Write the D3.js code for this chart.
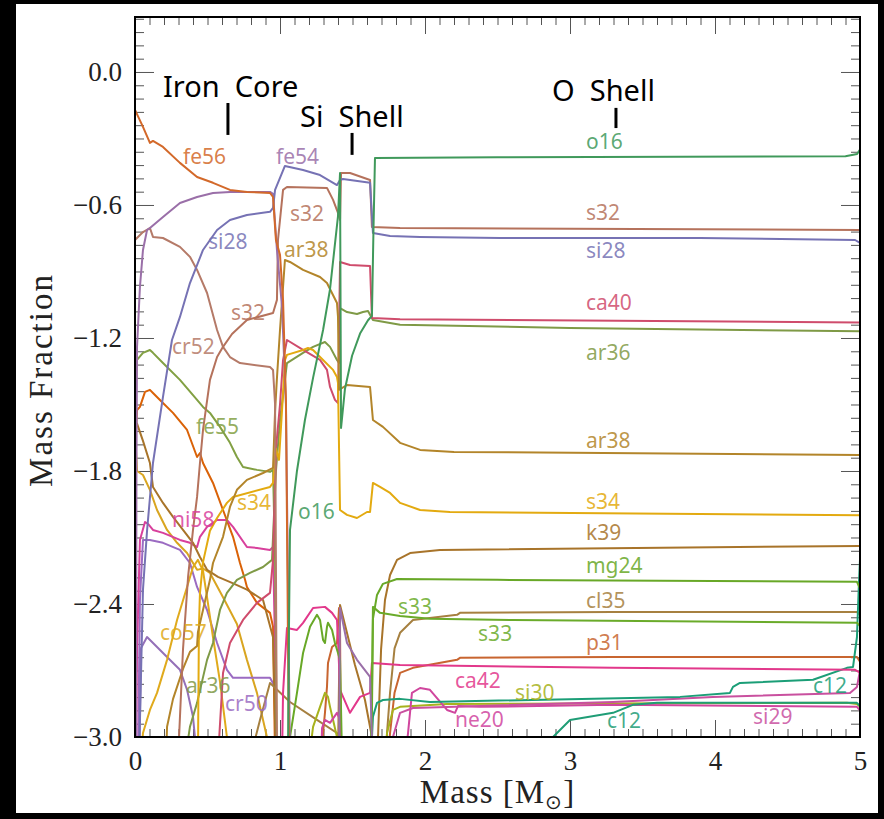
<!DOCTYPE html>
<html>
<head>
<meta charset="utf-8">
<style>
    html, body { margin: 0; padding: 0; background: #000; }
    svg { display: block; }
    .tick line { stroke: #555; stroke-width: 1px; }
    .axis-title { font-family: "Liberation Serif", serif; font-size: 33px; fill: #222; }
    .region { font-family: "Noto Sans", sans-serif; font-size: 29px; fill: #000; }
    .iso-label { font-family: "Noto Sans", sans-serif; font-size: 21px; }
    .iso { fill: none; stroke-width: 2px; stroke-linejoin: round; }
</style>
</head>
<body>
<svg width="884" height="819"></svg>
<script src="https://cdn.jsdelivr.net/npm/d3@7"></script>
<script>
// mass [Msun], log10 mass fraction
var fe56 = [[0,-0.171],[0.055,-0.248],[0.103,-0.32],[0.124,-0.311],[0.193,-0.338],[0.31,-0.41],[0.428,-0.474],[0.538,-0.5],[0.655,-0.532],[0.772,-0.541],[0.931,-0.546],[0.952,-0.564],[0.972,-0.758],[1.0,-0.825],[1.021,-1.028],[1.041,-1.48],[1.062,-3.1]];
var fe54 = [[0.007,-3.1],[0.01,-1.8],[0.014,-1.24],[0.034,-0.97],[0.055,-0.803],[0.083,-0.713],[0.103,-0.704],[0.193,-0.654],[0.31,-0.591],[0.428,-0.564],[0.538,-0.546],[0.655,-0.541],[0.931,-0.541],[0.952,-0.55],[0.979,-0.803],[1.014,-1.06],[1.041,-1.5],[1.069,-3.1],[1.407,-3.1],[1.414,-2.418],[1.462,-2.576],[1.531,-2.652],[1.6,-2.711],[1.621,-2.729],[1.634,-3.0],[1.641,-3.1]];
var cr52 = [[0,-0.758],[0.055,-0.722],[0.103,-0.704],[0.124,-0.744],[0.193,-0.749],[0.31,-0.789],[0.379,-0.834],[0.428,-0.893],[0.497,-0.997],[0.566,-1.164],[0.607,-1.24],[0.655,-1.286],[0.724,-1.313],[0.931,-1.331],[0.952,-1.344],[0.966,-1.5],[0.979,-3.1]];
var si28 = [[0.028,-3.1],[0.055,-2.335],[0.083,-2.07],[0.124,-1.764],[0.193,-1.466],[0.255,-1.209],[0.31,-1.105],[0.379,-0.952],[0.469,-0.803],[0.566,-0.713],[0.655,-0.668],[0.772,-0.645],[0.931,-0.631],[0.952,-0.613],[0.966,-0.532],[1.034,-0.424],[1.159,-0.442],[1.276,-0.465],[1.393,-0.51],[1.414,-0.487],[1.434,-0.483],[1.621,-0.5],[1.641,-0.726],[1.759,-0.74],[1.966,-0.744],[2.517,-0.749],[3.897,-0.749],[4.966,-0.758],[5,-0.771]];
var s32 = [[0.297,-3.1],[0.331,-2.605],[0.366,-2.278],[0.4,-2.066],[0.428,-1.917],[0.448,-1.764],[0.469,-1.615],[0.517,-1.389],[0.566,-1.286],[0.607,-1.24],[0.669,-1.182],[0.772,-1.119],[0.952,-1.087],[0.979,-1.028],[0.986,-0.758],[1.021,-0.532],[1.048,-0.519],[1.324,-0.523],[1.366,-0.577],[1.4,-0.636],[1.414,-0.668],[1.421,-0.456],[1.483,-0.456],[1.621,-0.487],[1.634,-0.699],[1.828,-0.704],[5,-0.713]];
var o16 = [[1.055,-3.1],[1.062,-2.5],[1.069,-2.066],[1.117,-1.8],[1.172,-1.57],[1.228,-1.38],[1.297,-1.164],[1.345,-0.98],[1.4,-0.65],[1.414,-0.456],[1.421,-1.606],[1.448,-1.43],[1.497,-1.28],[1.552,-1.18],[1.607,-1.12],[1.634,-1.1],[1.645,-0.7],[1.655,-0.388],[2.5,-0.385],[4.9,-0.38],[4.98,-0.37],[5,-0.35]];
var ca40 = [[0.572,-3.1],[0.607,-2.711],[0.655,-2.576],[0.745,-2.472],[0.841,-2.395],[0.931,-2.35],[0.952,-2.201],[0.972,-1.7],[1.0,-1.5],[1.021,-1.3],[1.048,-1.209],[1.159,-1.254],[1.276,-1.299],[1.324,-1.344],[1.345,-1.421],[1.379,-1.479],[1.4,-1.493],[1.414,-0.857],[1.483,-0.871],[1.621,-0.875],[1.634,-1.11],[1.828,-1.115],[5,-1.13]];
var ar36 = [[0.345,-3.1],[0.379,-2.954],[0.428,-2.846],[0.497,-2.652],[0.538,-2.576],[0.586,-2.427],[0.634,-2.35],[0.703,-2.291],[0.793,-2.26],[0.883,-2.233],[0.945,-2.201],[0.972,-1.8],[1.0,-1.57],[1.048,-1.313],[1.159,-1.267],[1.228,-1.24],[1.31,-1.218],[1.345,-1.24],[1.393,-1.299],[1.407,-1.313],[1.414,-1.065],[1.462,-1.083],[1.531,-1.092],[1.572,-1.083],[1.607,-1.078],[1.641,-1.119],[1.828,-1.14],[3,-1.155],[5,-1.17]];
var ar38 = [[0.214,-3.1],[0.221,-2.954],[0.262,-2.829],[0.331,-2.693],[0.379,-2.616],[0.428,-2.589],[0.434,-2.527],[0.469,-2.427],[0.517,-2.291],[0.538,-2.215],[0.607,-2.097],[0.655,-1.962],[0.703,-1.885],[0.772,-1.84],[0.883,-1.809],[0.952,-1.786],[0.966,-1.53],[0.979,-1.38],[1.0,-1.164],[1.034,-0.848],[1.069,-0.857],[1.159,-0.893],[1.276,-0.925],[1.324,-0.952],[1.393,-1.042],[1.4,-1.105],[1.407,-1.434],[1.462,-1.412],[1.621,-1.421],[1.641,-1.57],[1.71,-1.601],[1.828,-1.673],[1.966,-1.705],[2.2,-1.714],[5,-1.728]];
var s34 = [[0.434,-3.1],[0.441,-2.5],[0.448,-2.35],[0.469,-2.211],[0.517,-2.07],[0.566,-2.012],[0.634,-1.944],[0.676,-1.917],[0.931,-1.872],[0.952,-1.854],[0.972,-1.7],[0.993,-1.75],[1.007,-1.6],[1.021,-1.45],[1.034,-1.3],[1.048,-1.276],[1.159,-1.254],[1.193,-1.245],[1.228,-1.254],[1.297,-1.299],[1.366,-1.344],[1.393,-1.376],[1.4,-1.403],[1.414,-1.976],[1.462,-1.998],[1.531,-2.012],[1.6,-1.985],[1.621,-1.985],[1.641,-1.854],[1.69,-1.872],[1.759,-1.899],[1.828,-1.944],[1.966,-1.976],[2.172,-1.985],[5,-2.0]];
var co57 = [[0.041,-3.1],[0.055,-2.982],[0.103,-2.878],[0.152,-2.801],[0.221,-2.652],[0.29,-2.472],[0.359,-2.323],[0.4,-2.233],[0.434,-2.201],[0.469,-2.25],[0.497,-2.37],[0.538,-2.55],[0.586,-2.75],[0.634,-3.0],[0.65,-3.1]];
var co56 = [[0,-1.62],[0.014,-1.8],[0.055,-1.818],[0.103,-1.885],[0.152,-1.976],[0.221,-2.066],[0.29,-2.124],[0.359,-2.17],[0.428,-2.246],[0.469,-2.24],[0.517,-2.26],[0.607,-2.37],[0.703,-2.49],[0.772,-2.652],[0.841,-2.801],[0.883,-2.923],[0.91,-3.0],[0.92,-3.1]];
var k39 = [[0,-1.6],[0.014,-1.586],[0.055,-1.664],[0.103,-1.764],[0.124,-1.872],[0.193,-1.944],[0.262,-2.007],[0.331,-2.066],[0.4,-2.124],[0.448,-2.188],[0.497,-2.246],[0.572,-2.278],[0.669,-2.305],[0.772,-2.335],[0.883,-2.382],[0.952,-2.55],[0.972,-3.1],[1.4,-3.1],[1.414,-2.404],[1.448,-2.494],[1.517,-2.675],[1.586,-2.833],[1.634,-3.0],[1.648,-3.1],[1.669,-3.1],[1.676,-3.0],[1.697,-2.605],[1.724,-2.382],[1.759,-2.269],[1.807,-2.201],[1.897,-2.17],[2.103,-2.156],[5,-2.138]];
var mg24 = [[1.048,-3.1],[1.069,-3.0],[1.117,-2.801],[1.159,-2.621],[1.207,-2.503],[1.255,-2.449],[1.276,-2.472],[1.297,-2.562],[1.31,-2.576],[1.324,-2.503],[1.331,-2.485],[1.359,-2.517],[1.379,-2.576],[1.4,-2.621],[1.414,-2.652],[1.428,-3.1],[1.628,-3.1],[1.634,-2.9],[1.641,-2.467],[1.669,-2.359],[1.71,-2.309],[1.807,-2.287],[2.5,-2.291],[4.979,-2.3],[5,-2.33]];
var s33 = [[1.627,-3.1],[1.634,-2.8],[1.641,-2.413],[1.69,-2.44],[1.828,-2.454],[2.034,-2.467],[2.607,-2.472],[4.98,-2.485],[5,-2.5]];
var cl35 = [[0.793,-3.1],[0.862,-2.923],[0.931,-2.756],[1.069,-2.842],[1.255,-2.923],[1.393,-2.982],[1.45,-3.1],[1.73,-3.1],[1.738,-2.982],[1.759,-2.8],[1.79,-2.6],[1.828,-2.53],[1.917,-2.472],[2.221,-2.449],[2.241,-2.44],[3.297,-2.436],[4.979,-2.436],[5,-2.45]];
var p31 = [[1.283,-3.1],[1.297,-2.982],[1.31,-2.891],[1.324,-2.774],[1.331,-2.666],[1.359,-2.594],[1.393,-2.576],[1.407,-2.418],[1.414,-2.5],[1.42,-3.1],[1.745,-3.1],[1.759,-2.982],[1.79,-2.8],[1.828,-2.711],[1.917,-2.688],[2.221,-2.652],[2.241,-2.643],[3.297,-2.639],[4.979,-2.639],[5,-2.66]];
var ca42 = [[1.014,-3.1],[1.021,-2.8],[1.048,-2.508],[1.117,-2.517],[1.159,-2.485],[1.228,-2.418],[1.31,-2.413],[1.359,-2.44],[1.393,-2.472],[1.4,-2.562],[1.414,-2.787],[1.483,-2.891],[1.552,-2.819],[1.621,-2.801],[1.634,-2.666],[1.828,-2.675],[3.297,-2.688],[4.966,-2.697],[5,-2.71]];
var ni58 = [[0.007,-3.1],[0.014,-2.6],[0.034,-2.111],[0.069,-2.03],[0.09,-2.039],[0.124,-2.066],[0.193,-2.079],[0.31,-2.111],[0.379,-2.124],[0.428,-2.143],[0.448,-2.097],[0.497,-2.052],[0.566,-2.021],[0.634,-2.021],[0.676,-2.052],[0.772,-2.143],[0.841,-2.147],[0.931,-2.156],[0.952,-2.143],[0.966,-2.6],[0.972,-3.1]];
var cr50 = [[0.021,-3.1],[0.034,-2.382],[0.055,-2.111],[0.103,-2.111],[0.193,-2.124],[0.31,-2.156],[0.379,-2.215],[0.428,-2.323],[0.497,-2.427],[0.566,-2.576],[0.634,-2.697],[0.676,-2.733],[0.931,-2.733],[0.966,-2.774],[0.979,-3.1]];
var ti48 = [[0.03,-3.1],[0.041,-2.6],[0.083,-2.549],[0.152,-2.594],[0.221,-2.639],[0.31,-2.697],[0.359,-2.787],[0.4,-2.909],[0.428,-3.1]];
var fe55 = [[0,-1.5],[0.014,-1.299],[0.055,-1.267],[0.103,-1.254],[0.124,-1.267],[0.193,-1.313],[0.31,-1.389],[0.428,-1.479],[0.469,-1.511],[0.517,-1.538],[0.586,-1.601],[0.655,-1.673],[0.703,-1.737],[0.745,-1.782],[0.841,-1.795],[0.931,-1.804],[0.952,-1.795],[0.966,-2.2],[0.979,-3.1]];
var ni56 = [[0,-1.7],[0.014,-1.525],[0.034,-1.511],[0.069,-1.443],[0.103,-1.434],[0.124,-1.448],[0.193,-1.493],[0.262,-1.538],[0.359,-1.615],[0.428,-1.737],[0.448,-1.719],[0.469,-1.764],[0.538,-1.854],[0.607,-1.976],[0.676,-2.097],[0.724,-2.215],[0.759,-2.291],[0.772,-2.323],[0.841,-2.395],[0.931,-2.44],[0.952,-2.503],[0.966,-3.1]];
var ne20 = [[1.283,-3.1],[1.29,-2.96],[1.31,-2.923],[1.345,-2.936],[1.393,-2.891],[1.414,-2.923],[1.428,-3.1],[1.862,-3.1],[1.883,-2.982],[1.91,-2.801],[1.966,-2.779],[2.034,-2.787],[2.152,-2.878],[2.207,-2.891],[2.228,-2.86],[2.379,-2.864],[3.297,-2.855],[4.979,-2.864],[5,-2.88]];
var si29 = [[1.772,-3.1],[1.779,-3.0],[1.828,-2.891],[1.917,-2.869],[2.379,-2.86],[3.297,-2.842],[3.986,-2.819],[4.931,-2.801],[4.979,-2.774],[5,-2.7]];
var si30 = [[1.2,-3.1],[1.228,-2.954],[1.276,-2.864],[1.31,-2.801],[1.331,-2.819],[1.345,-2.864],[1.366,-2.923],[1.393,-3.0],[1.4,-3.1],[1.731,-3.1],[1.738,-2.982],[1.779,-2.878],[1.828,-2.864],[2.152,-2.851],[4.91,-2.846],[4.979,-2.851],[5,-2.864]];
var c12 = [[1.627,-3.1],[1.641,-2.909],[1.669,-2.846],[1.71,-2.833],[1.828,-2.828],[2.034,-2.842],[3.759,-2.819],[4.103,-2.801],[4.124,-2.774],[4.172,-2.756],[4.676,-2.742],[4.91,-2.688],[4.952,-2.684],[4.979,-2.55],[4.993,-2.3],[5,-2.2]];
var n14 = [[2.85,-3.1],[2.883,-3.0],[3.0,-2.923],[3.297,-2.891],[3.434,-2.855],[3.6,-2.846],[4.979,-2.846],[5,-2.86]];

var species = [
    {name: 'ni56', color: '#da6207', data: ni56},
    {name: 'co56', color: '#d9a520', data: co56},
    {name: 'ti48', color: '#9470b8', data: ti48},
    {name: 'cr50', color: '#9b6bc2', data: cr50},
    {name: 'co57', color: '#e0aa1c', data: co57},
    {name: 'ni58', color: '#d8409c', data: ni58},
    {name: 'k39', color: '#a8742a', data: k39},
    {name: 'fe55', color: '#82a043', data: fe55},
    {name: 'cl35', color: '#a68040', data: cl35},
    {name: 'p31', color: '#c86530', data: p31},
    {name: 'si30', color: '#a7b21d', data: si30},
    {name: 'ne20', color: '#d0469e', data: ne20},
    {name: 'si29', color: '#c9509f', data: si29},
    {name: 'n14', color: '#1f9d76', data: n14},
    {name: 'c12', color: '#1b9e77', data: c12},
    {name: 'ca42', color: '#e2388b', data: ca42},
    {name: 'mg24', color: '#68a827', data: mg24},
    {name: 's33', color: '#6aab2a', data: s33},
    {name: 'ar36', color: '#7f9a46', data: ar36},
    {name: 'ca40', color: '#cf4c6c', data: ca40},
    {name: 's34', color: '#e3aa10', data: s34},
    {name: 'ar38', color: '#b3852a', data: ar38},
    {name: 'cr52', color: '#b57a68', data: cr52},
    {name: 's32', color: '#b5725c', data: s32},
    {name: 'fe54', color: '#9a6fa8', data: fe54},
    {name: 'si28', color: '#7672b4', data: si28},
    {name: 'fe56', color: '#d3692a', data: fe56},
    {name: 'o16', color: '#40995b', data: o16}
];

// label text, series for colour, mass, log X (baseline, left aligned)
var labels = [
    ['fe56', 'fe56', 0.331, -0.415], ['fe54', 'fe54', 0.972, -0.415],
    ['s32', 's32', 1.069, -0.672], ['si28', 'si28', 0.503, -0.798],
    ['ar38', 'ar38', 1.028, -0.834], ['s32', 's32', 0.662, -1.119],
    ['cr52', 'cr52', 0.255, -1.272], ['fe55', 'fe55', 0.421, -1.633],
    ['s34', 's34', 0.703, -1.976], ['o16', 'o16', 1.124, -2.016],
    ['ni58', 'ni58', 0.255, -2.052], ['co57', 'co57', 0.172, -2.562],
    ['ar36', 'ar36', 0.352, -2.801], ['cr50', 'cr50', 0.621, -2.882],
    ['o16', 'o16', 3.11, -0.347], ['s32', 's32', 3.11, -0.668],
    ['si28', 'si28', 3.11, -0.839], ['ca40', 'ca40', 3.11, -1.074],
    ['ar36', 'ar36', 3.11, -1.299], ['ar38', 'ar38', 3.11, -1.696],
    ['s34', 's34', 3.11, -1.971], ['k39', 'k39', 3.11, -2.111],
    ['mg24', 'mg24', 3.11, -2.26], ['s33', 's33', 1.814, -2.445],
    ['cl35', 'cl35', 3.11, -2.418], ['s33', 's33', 2.366, -2.567],
    ['p31', 'p31', 3.11, -2.607], ['ca42', 'ca42', 2.207, -2.779],
    ['si30', 'si30', 2.621, -2.833], ['ne20', 'ne20', 2.207, -2.955],
    ['c12', 'n14', 3.255, -2.959], ['c12', 'c12', 4.676, -2.801],
    ['si29', 'si29', 4.262, -2.941]
];

// region name, text x, text baseline, marker x, marker top, marker bottom
var regions = [
    ['Iron  Core', 0.193, -0.113, 0.641, -0.14, -0.284],
    ['Si  Shell', 1.138, -0.248, 1.497, -0.275, -0.374],
    ['O  Shell', 2.876, -0.131, 3.317, -0.162, -0.253]
];

var xMajor = [0, 1, 2, 3, 4, 5];
var yMajor = [-3.0, -2.4, -1.8, -1.2, -0.6, 0.0];

var svg = d3.select('svg');
var plotLeft = 135, plotRight = 860, plotTop = 17, plotBottom = 737;

svg.append('rect')
    .attr('x', 16).attr('y', 4)
    .attr('width', 862).attr('height', 809)
    .attr('fill', '#fff');

var x = d3.scaleLinear().domain([0, 5]).range([plotLeft, plotRight]);
var y = d3.scaleLinear().domain([-3, 0.248]).range([plotBottom, plotTop]);

var xMinor = d3.range(0, 5.0001, 0.1).filter(function (v) { return Math.abs(v - Math.round(v)) > 1e-6; });
var yMinor = d3.range(-3, 0.25, 0.06).filter(function (v) { return Math.abs(v / 0.6 - Math.round(v / 0.6)) > 1e-6; });

function tickAxis(axis, values, size, g) {
    svg.append('g').attr('transform', g)
        .call(axis.tickValues(values).tickSize(-size).tickFormat(''))
        .call(function (s) { s.select('.domain').remove(); });
}

tickAxis(d3.axisBottom(x), xMinor, 8, 'translate(0,' + plotBottom + ')');
tickAxis(d3.axisTop(x), xMinor, 8, 'translate(0,' + plotTop + ')');
tickAxis(d3.axisTop(x), xMajor, 17, 'translate(0,' + plotTop + ')');
tickAxis(d3.axisLeft(y), yMinor, 9, 'translate(' + plotLeft + ',0)');
tickAxis(d3.axisRight(y), yMinor, 9, 'translate(' + plotRight + ',0)');
tickAxis(d3.axisRight(y), yMajor, 19, 'translate(' + plotRight + ',0)');

svg.append('g').attr('transform', 'translate(0,' + plotBottom + ')')
    .call(d3.axisBottom(x).tickValues(xMajor).tickSize(-17).tickPadding(14).tickFormat(d3.format('d')))
    .call(function (s) { s.select('.domain').remove(); });

svg.append('g').attr('transform', 'translate(' + plotLeft + ',0)')
    .call(d3.axisLeft(y).tickValues(yMajor).tickSize(-19).tickPadding(13).tickFormat(d3.format('.1f')))
    .call(function (s) { s.select('.domain').remove(); });

svg.selectAll('.tick text')
    .attr('fill', '#222')
    .style('font-family', '"Liberation Serif", "DejaVu Serif", serif')
    .style('font-size', '27px');

svg.append('clipPath').attr('id', 'plot-clip')
    .append('rect')
    .attr('x', plotLeft).attr('y', plotTop)
    .attr('width', plotRight - plotLeft).attr('height', plotBottom - plotTop);

var line = d3.line()
    .x(function (d) { return x(d[0]); })
    .y(function (d) { return y(d[1]); });

svg.append('g').attr('clip-path', 'url(#plot-clip)')
    .selectAll('path')
    .data(species)
    .enter()
        .append('path')
        .attr('class', 'iso')
        .attr('stroke', function (d) { return d.color; })
        .attr('d', function (d) { return line(d.data); });

var colorOf = {};
species.forEach(function (s) { colorOf[s.name] = s.color; });

svg.append('g').selectAll('text')
    .data(labels)
    .enter()
        .append('text')
        .attr('class', 'iso-label')
        .attr('x', function (d) { return x(d[2]); })
        .attr('y', function (d) { return y(d[3]); })
        .attr('fill', function (d) { return colorOf[d[1]]; })
        .attr('fill-opacity', 0.85)
        .text(function (d) { return d[0]; });

var reg = svg.append('g');
reg.selectAll('text')
    .data(regions)
    .enter()
        .append('text')
        .attr('class', 'region')
        .style('white-space', 'pre')
        .attr('x', function (d) { return x(d[1]); })
        .attr('y', function (d) { return y(d[2]); })
        .text(function (d) { return d[0]; });
reg.selectAll('line')
    .data(regions)
    .enter()
        .append('line')
        .attr('x1', function (d) { return x(d[3]); })
        .attr('x2', function (d) { return x(d[3]); })
        .attr('y1', function (d) { return y(d[4]); })
        .attr('y2', function (d) { return y(d[5]); })
        .attr('stroke', '#000')
        .attr('stroke-width', 3);

svg.append('rect')
    .attr('x', plotLeft).attr('y', plotTop)
    .attr('width', plotRight - plotLeft).attr('height', plotBottom - plotTop)
    .attr('fill', 'none')
    .attr('stroke', '#000')
    .attr('stroke-width', 2);

svg.append('text')
    .attr('class', 'axis-title')
    .attr('transform', 'translate(52,380) rotate(-90)')
    .attr('text-anchor', 'middle')
    .attr('letter-spacing', 2)
    .text('Mass Fraction');

var xt = svg.append('text')
    .attr('class', 'axis-title')
    .attr('x', (plotLeft + plotRight) / 2)
    .attr('y', 803)
    .attr('text-anchor', 'middle')
    .attr('letter-spacing', 1);
xt.append('tspan').text('Mass [M');
xt.append('tspan').attr('font-size', 20).attr('dy', 6).text('\u2299');
xt.append('tspan').attr('dy', -6).text(']');
</script>
</body>
</html>
